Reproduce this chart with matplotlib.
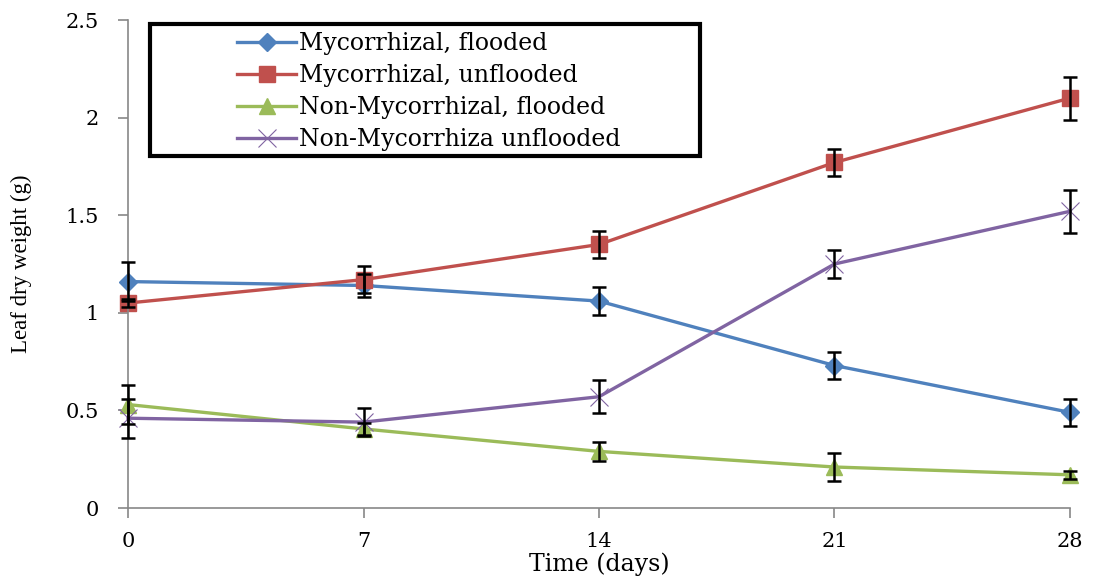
import matplotlib
matplotlib.use('Agg')
import matplotlib.pyplot as plt
from matplotlib.patches import Rectangle
from matplotlib.ticker import FormatStrFormatter

# days after flooding
days = [0, 7, 14, 21, 28]

myc_flooded = [1.16, 1.14, 1.06, 0.73, 0.49]
myc_flooded_err = [0.10, 0.06, 0.07, 0.07, 0.07]

myc_unflooded = [1.05, 1.17, 1.35, 1.77, 2.10]
myc_unflooded_err = [0.02, 0.07, 0.07, 0.07, 0.11]

nonmyc_flooded = [0.53, 0.405, 0.29, 0.21, 0.17]
nonmyc_flooded_err = [0.10, 0.03, 0.05, 0.07, 0.02]

nonmyc_unflooded = [0.46, 0.44, 0.57, 1.25, 1.52]
nonmyc_unflooded_err = [0.10, 0.07, 0.085, 0.07, 0.11]

labels = ['Mycorrhizal, flooded', 'Mycorrhizal, unflooded',
          'Non-Mycorrhizal, flooded', 'Non-Mycorrhiza unflooded']

# the source picture is a stretched Times chart; wide serif gets closer
plt.rcParams['font.family'] = ['DejaVu Serif']

fig = plt.figure(figsize=(10.95, 5.81), dpi=100)
ax = fig.add_axes([128/1095, 73/581, 942/1095, 488/581])

series = [
    (myc_flooded, myc_flooded_err, '#4F81BD', 'D', 9, labels[0]),
    (myc_unflooded, myc_unflooded_err, '#C0504D', 's', 11, labels[1]),
    (nonmyc_flooded, nonmyc_flooded_err, '#9BBB59', '^', 12, labels[2]),
    (nonmyc_unflooded, nonmyc_unflooded_err, '#8064A2', 'x', 13, labels[3]),
]

handles = []
for vals, err, col, mk, ms, lab in series:
    eb = ax.errorbar(days, vals, yerr=err, fmt='none', ecolor='black',
                     elinewidth=1.8, capsize=5, capthick=1.8, zorder=3)
    for art in eb.lines[1] + eb.lines[2]:
        art.set_clip_on(False)
    mew = 0.8 if mk == 'x' else 1
    h, = ax.plot(days, vals, color=col, lw=2.4, marker=mk, markersize=ms,
                 markeredgewidth=mew, label=lab, zorder=2, clip_on=False)
    handles.append(h)

ax.set_xlim(0, 28)
ax.set_ylim(0, 2.5)
ax.set_xticks(days)
ax.set_yticks([0, 0.5, 1, 1.5, 2, 2.5])
ax.yaxis.set_major_formatter(FormatStrFormatter('%g'))
ax.tick_params(labelsize=15, color='#888888', length=7, width=1.2)
ax.tick_params(axis='y', pad=14)
ax.tick_params(axis='x', pad=10)

for s in ['top', 'right']:
    ax.spines[s].set_visible(False)
for s in ['left', 'bottom']:
    ax.spines[s].set_color('#888888')
    ax.spines[s].set_linewidth(1.2)

ax.set_xlabel('Time (days)', fontsize=17, labelpad=1)
ax.set_ylabel('Leaf dry weight (g)', fontsize=16.5, labelpad=24,
              family=['Liberation Serif'])

# legend box
fig.patches.append(Rectangle((150/1095, 1 - 156/581), 550/1095, 132/581,
                             transform=fig.transFigure, fill=False,
                             edgecolor='black', linewidth=3))
fig.legend(handles=handles, loc='upper left',
           bbox_to_anchor=(228/1095, 1 - 23/581), frameon=False,
           fontsize=17, handlelength=2.5, handletextpad=0.1,
           labelspacing=0.38, borderaxespad=0)

fig.savefig('out.png', dpi=100)
